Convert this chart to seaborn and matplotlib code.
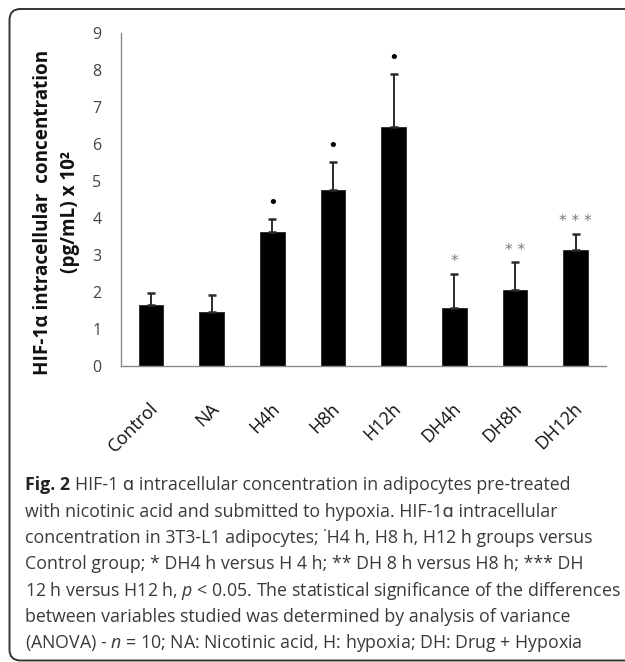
import matplotlib
matplotlib.use("Agg")
import matplotlib.pyplot as plt
import seaborn as sns
import pandas as pd
import numpy as np
from matplotlib.patches import FancyBboxPatch
from matplotlib.transforms import IdentityTransform, ScaledTranslation

# ---- data ----
groups = ["Control", "NA", "H4h", "H8h", "H12h", "DH4h", "DH8h", "DH12h"]
values = [1.66, 1.47, 3.63, 4.75, 6.46, 1.56, 2.06, 3.14]
errors = [0.31, 0.44, 0.33, 0.77, 1.43, 0.93, 0.74, 0.43]
marks = ["", "", "•", "•", "•", "*", "* *", "* * *"]
yticks = [0, 1, 2, 3, 4, 5, 6, 7, 8, 9]
ylabel_line1 = "HIF-1α intracellular  concentration"
ylabel_line2 = "(pg/mL) x 10²"

caption_head = "Fig. 2"
caption_lines = [
    "HIF-1 ɑ intracellular concentration in adipocytes pre-treated",
    "with nicotinic acid and submitted to hypoxia. HIF-1ɑ intracellular",
    "concentration in 3T3-L1 adipocytes; ˙H4 h, H8 h, H12 h groups versus",
    "Control group; * DH4 h versus H 4 h; ** DH 8 h versus H8 h; *** DH",
    r"12 h versus H12 h, $\mathit{p}$ < 0.05. The statistical significance of the differences",
    "between variables studied was determined by analysis of variance",
    r"(ANOVA) - $\mathit{n}$ = 10; NA: Nicotinic acid, H: hypoxia; DH: Drug + Hypoxia",
]

sns.set_theme(style="white")
plt.rcParams["font.family"] = ["Open Sans", "DejaVu Sans"]
plt.rcParams["mathtext.fontset"] = "custom"
plt.rcParams["mathtext.rm"] = "Open Sans"
plt.rcParams["mathtext.it"] = "Open Sans:italic"
plt.rcParams["mathtext.bf"] = "Open Sans:bold"

W, H = 625, 662
fig = plt.figure(figsize=(W / 100, H / 100), dpi=100)
fig.patch.set_facecolor("white")

# axes placement in pixels
ax_left, ax_right, ax_top, ax_bottom = 120.7, 606, 33, 366
ax = fig.add_axes([ax_left / W, (H - ax_bottom) / H,
                   (ax_right - ax_left) / W, (ax_bottom - ax_top) / H])

df = pd.DataFrame({"group": groups, "value": values, "err": errors})
sns.barplot(data=df, x="group", y="value", color="black", saturation=1,
            width=0.41, errorbar=None, edgecolor="#222222", linewidth=0.6, ax=ax)
x = np.arange(len(groups))
ax.errorbar(x, values, yerr=[np.zeros(len(errors)), errors], fmt="none",
            ecolor="#2a2a2a", elinewidth=1.4, capsize=3.2, capthick=1.8)

for i, (v, e, m) in enumerate(zip(values, errors, marks)):
    if not m:
        continue
    if m == "•":
        ax.annotate(m, xy=(i, v + e), xytext=(0, 16), textcoords="offset pixels",
                    ha="center", va="center", fontsize=13, color="black",
                    family="DejaVu Sans")
    else:
        ax.annotate(m, xy=(i, v + e), xytext=(0, 12), textcoords="offset pixels",
                    ha="center", va="center", fontsize=11, color="#7a7a7a",
                    family="DejaVu Sans")

ax.set_xlim(-0.5, len(groups) - 0.5)
ax.set_ylim(0, 9)
ax.set_yticks(yticks)
ax.set_yticklabels([str(t) for t in yticks])
ax.set_xlabel("")
ax.set_ylabel("")

for s in ["top", "right"]:
    ax.spines[s].set_visible(False)
for s in ["left", "bottom"]:
    ax.spines[s].set_color("#8a8a8a")
    ax.spines[s].set_linewidth(1.0)

ax.tick_params(axis="y", length=0, pad=14, labelsize=11.5, labelcolor="#444444")
ax.tick_params(axis="x", which="major", length=0, pad=24, labelsize=13,
               labelcolor="#111111")
ax.set_xticks(np.arange(-0.5, len(groups), 1.0), minor=True)
ax.tick_params(axis="x", which="minor", length=7, width=1.0, color="#8a8a8a",
               direction="out")
ax.set_xticklabels(groups, rotation=45, ha="right", rotation_mode="anchor")
off = ScaledTranslation(-2 / 100, 0, fig.dpi_scale_trans)
for lab in ax.get_xticklabels():
    lab.set_transform(lab.get_transform() + off)

# y label (two rotated bold lines)
fig.text(43 / W, (H - 212) / H, ylabel_line1, rotation=90, ha="center", va="center",
         fontsize=13.6, fontweight="bold", color="#111111")
fig.text(70 / W, (H - 212) / H, ylabel_line2, rotation=90, ha="center", va="center",
         fontsize=13.6, fontweight="bold", color="#111111")

# caption
cap_fs = 12.8
cap_y = [485.5, 511.8, 538.1, 564.4, 590.7, 617.0, 643.3]
renderer = fig.canvas.get_renderer()
head = fig.text(25 / W, (H - cap_y[0]) / H, caption_head, ha="left", va="center",
                fontsize=cap_fs, fontweight="bold", color="#222222")
hb = head.get_window_extent(renderer)
for k, (yy, line) in enumerate(zip(cap_y, caption_lines)):
    x0 = 25 if k > 0 else (hb.x1 + 5)
    fig.text(x0 / W, (H - yy) / H, line, ha="left", va="center",
             fontsize=cap_fs, color="#3a3a3a")

# frame
box = FancyBboxPatch((9.5, 1.5), 700, H - 10.5,
                     boxstyle="round,pad=0,rounding_size=11",
                     transform=IdentityTransform(), fill=False,
                     edgecolor="#333333", linewidth=1.4)
fig.add_artist(box)

fig.savefig("out.png", dpi=100)
